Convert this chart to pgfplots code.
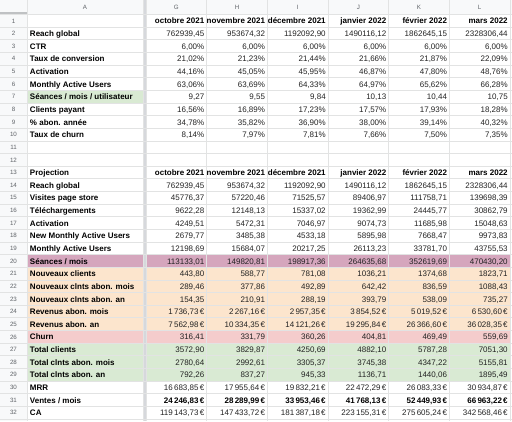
\documentclass[border=0pt]{standalone}
\usepackage{pgfplots}
\pgfplotsset{compat=1.18}
\usepackage{pgfplotstable}
\usepackage{fontspec}
\setmainfont{Liberation Sans}
\definecolor{hdr}{HTML}{F8F9FA}
\definecolor{gridc}{HTML}{E2E3E3}
\definecolor{divc}{HTML}{D6D8DC}
\definecolor{corn}{HTML}{BFC1C3}
\definecolor{grn}{HTML}{D9EAD3}
\definecolor{pnk}{HTML}{D5A6BD}
\definecolor{orn}{HTML}{FCE5CD}
\definecolor{rdc}{HTML}{F4CCCC}
\definecolor{valc}{HTML}{222222}
\definecolor{hdtxt}{HTML}{5F6368}
\newcommand\ts{\kern0.16em}

% labels of column A (bold)
\pgfplotstableread[col sep=semicolon,row sep=\\]{
r;t\\
2;Reach global\\
3;CTR\\
4;Taux de conversion\\
5;Activation\\
6;Monthly Active Users\\
7;Séances / mois / utilisateur\\
8;Clients payant\\
9;\% abon. année\\
10;Taux de churn\\
13;Projection\\
14;Reach global\\
15;Visites page store\\
16;Téléchargements\\
17;Activation\\
18;New Monthly Active Users\\
19;Monthly Active Users\\
20;Séances / mois\\
21;Nouveaux clients\\
22;Nouveaux clnts abon. mois\\
23;Nouveaux clnts abon. an\\
24;Revenus abon. mois\\
25;Revenus abon. an\\
26;Churn\\
27;Total clients\\
28;Total clnts abon. mois\\
29;Total clnts abon. an\\
30;MRR\\
31;Ventes / mois\\
32;CA\\
}\labels

% month headers (bold)
\pgfplotstableread[col sep=semicolon,row sep=\\]{
r;G;H;I;J;K;L\\
1;octobre 2021;novembre 2021;décembre 2021;janvier 2022;février 2022;mars 2022\\
13;octobre 2021;novembre 2021;décembre 2021;janvier 2022;février 2022;mars 2022\\
}\months

% values (regular)
\pgfplotstableread[col sep=semicolon,row sep=\\]{
r;G;H;I;J;K;L\\
2;762939,45;953674,32;1192092,90;1490116,12;1862645,15;2328306,44\\
3;6,00\%;6,00\%;6,00\%;6,00\%;6,00\%;6,00\%\\
4;21,02\%;21,23\%;21,44\%;21,66\%;21,87\%;22,09\%\\
5;44,16\%;45,05\%;45,95\%;46,87\%;47,80\%;48,76\%\\
6;63,06\%;63,69\%;64,33\%;64,97\%;65,62\%;66,28\%\\
7;9,27;9,55;9,84;10,13;10,44;10,75\\
8;16,56\%;16,89\%;17,23\%;17,57\%;17,93\%;18,28\%\\
9;34,78\%;35,82\%;36,90\%;38,00\%;39,14\%;40,32\%\\
10;8,14\%;7,97\%;7,81\%;7,66\%;7,50\%;7,35\%\\
14;762939,45;953674,32;1192092,90;1490116,12;1862645,15;2328306,44\\
15;45776,37;57220,46;71525,57;89406,97;111758,71;139698,39\\
16;9622,28;12148,13;15337,02;19362,99;24445,77;30862,79\\
17;4249,51;5472,31;7046,97;9074,73;11685,98;15048,63\\
18;2679,77;3485,38;4533,18;5895,98;7668,47;9973,83\\
19;12198,69;15684,07;20217,25;26113,23;33781,70;43755,53\\
20;113133,01;149820,81;198917,36;264635,68;352619,69;470430,20\\
21;443,80;588,77;781,08;1036,21;1374,68;1823,71\\
22;289,46;377,86;492,89;642,42;836,59;1088,43\\
23;154,35;210,91;288,19;393,79;538,09;735,27\\
24;1\ts736,73\ts€;2\ts267,16\ts€;2\ts957,35\ts€;3\ts854,52\ts€;5\ts019,52\ts€;6\ts530,60\ts€\\
25;7\ts562,98\ts€;10\ts334,35\ts€;14\ts121,26\ts€;19\ts295,84\ts€;26\ts366,60\ts€;36\ts028,35\ts€\\
26;316,41;331,79;360,26;404,81;469,49;559,69\\
27;3572,90;3829,87;4250,69;4882,10;5787,28;7051,30\\
28;2780,64;2992,61;3305,37;3745,38;4347,22;5155,81\\
29;792,26;837,27;945,33;1136,71;1440,06;1895,49\\
30;16\ts683,85\ts€;17\ts955,64\ts€;19\ts832,21\ts€;22\ts472,29\ts€;26\ts083,33\ts€;30\ts934,87\ts€\\
32;119\ts143,73\ts€;147\ts433,72\ts€;181\ts387,18\ts€;223\ts155,31\ts€;275\ts605,24\ts€;342\ts568,46\ts€\\
}\vals

% values (bold)
\pgfplotstableread[col sep=semicolon,row sep=\\]{
r;G;H;I;J;K;L\\
31;24\ts246,83\ts€;28\ts289,99\ts€;33\ts953,46\ts€;41\ts768,13\ts€;52\ts449,93\ts€;66\ts963,22\ts€\\
}\boldvals

% column letters
\pgfplotstableread[col sep=semicolon,row sep=\\]{
x;t\\
85;A\\
176.35;G\\
237;H\\
297.65;I\\
358.35;J\\
419;K\\
479.65;L\\
}\letters

% row numbers
\pgfplotstableread[col sep=semicolon,row sep=\\]{
r;n\\
1;1\\ 2;2\\ 3;3\\ 4;4\\ 5;5\\ 6;6\\ 7;7\\ 8;8\\ 9;9\\ 10;10\\ 11;11\\ 12;12\\ 13;13\\ 14;14\\ 15;15\\ 16;16\\
17;17\\ 18;18\\ 19;19\\ 20;20\\ 21;21\\ 22;22\\ 23;23\\ 24;24\\ 25;25\\ 26;26\\ 27;27\\ 28;28\\ 29;29\\ 30;30\\ 31;31\\ 32;32\\
}\rownums

\pgfplotsset{
  txtbase/.style={draw=none, mark=none, point meta=explicit symbolic,
    nodes near coords={\pgfplotspointmeta},
    every node near coord/.append style={inner sep=0pt, outer sep=0pt}},
  valR/.style={txtbase, every node near coord/.append style={anchor=base east, text=valc, font=\fontsize{8}{9.6}\selectfont}},
  valRb/.style={txtbase, every node near coord/.append style={anchor=base east, text=black, font=\fontsize{8}{9.6}\selectfont\bfseries}},
  labL/.style={txtbase, every node near coord/.append style={anchor=base west, text=black, font=\fontsize{8}{9.6}\selectfont\bfseries}},
  hdC/.style={txtbase, every node near coord/.append style={anchor=base, text=hdtxt, font=\fontsize{6.2}{7}\selectfont}},
}

\begin{document}
\begin{tikzpicture}
\begin{axis}[
  name=tbl, at={(0,0)}, anchor=north west,
  scale only axis, width=512pt, height=421pt,
  xmin=0, xmax=512, ymin=0, ymax=421, y dir=reverse,
  clip=false, axis on top,
  axis line style={draw=none}, major tick length=0pt,
  xticklabels={}, yticklabels={},
  xtick={27,143,146,206.7,267.3,328,388.7,449.3,510},
  ytick={14.5,27.14,39.78,52.42,65.06,77.70,90.34,102.98,115.62,128.26,140.90,153.54,166.18,178.82,191.46,204.10,216.74,229.38,242.02,254.66,267.30,279.94,292.58,305.22,317.86,330.50,343.14,355.78,368.42,381.06,393.70,406.34,418.98},
  grid=major, major grid style={line width=0.8pt, color=gridc},
]
% backgrounds
\addplot[fill=hdr, draw=none] coordinates {(0,0) (512,0) (512,14.5) (0,14.5)};
\addplot[fill=hdr, draw=none] coordinates {(0,0) (27,0) (27,421) (0,421)};
\addplot[fill=corn, draw=none] coordinates {(0,12) (27,12) (27,14.8) (0,14.8)};
\addplot[fill=grn, draw=none] coordinates {(27,90.34) (143,90.34) (143,102.98) (27,102.98)};
\addplot[fill=pnk, draw=none] coordinates {(27,254.66) (510,254.66) (510,267.30) (27,267.30)};
\addplot[fill=orn, draw=none] coordinates {(27,267.30) (510,267.30) (510,330.50) (27,330.50)};
\addplot[fill=rdc, draw=none] coordinates {(27,330.50) (510,330.50) (510,343.14) (27,343.14)};
\addplot[fill=grn, draw=none] coordinates {(27,343.14) (510,343.14) (510,381.06) (27,381.06)};
\addplot[fill=divc, draw=none] coordinates {(143,0) (146,0) (146,421) (143,421)};
% column letters and row numbers
\addplot[hdC] table[x=x, y expr=9.7, meta=t] {\letters};
\addplot[hdC] table[x=r, y expr=14.5+(\thisrow{r}-0.5)*12.64+2.2, x expr=13.5, meta=n] {\rownums};
% labels
\addplot[labL] table[x expr=30, y expr=14.5+(\thisrow{r}-0.5)*12.64+3.1, meta=t] {\labels};
% month headers
\addplot[valRb] table[x expr=204.3, y expr=14.5+(\thisrow{r}-0.5)*12.64+3.1, meta=G] {\months};
\addplot[valRb] table[x expr=265.0, y expr=14.5+(\thisrow{r}-0.5)*12.64+3.1, meta=H] {\months};
\addplot[valRb] table[x expr=325.7, y expr=14.5+(\thisrow{r}-0.5)*12.64+3.1, meta=I] {\months};
\addplot[valRb] table[x expr=386.3, y expr=14.5+(\thisrow{r}-0.5)*12.64+3.1, meta=J] {\months};
\addplot[valRb] table[x expr=447.0, y expr=14.5+(\thisrow{r}-0.5)*12.64+3.1, meta=K] {\months};
\addplot[valRb] table[x expr=507.7, y expr=14.5+(\thisrow{r}-0.5)*12.64+3.1, meta=L] {\months};
% regular values
\addplot[valR] table[x expr=204.3, y expr=14.5+(\thisrow{r}-0.5)*12.64+3.1, meta=G] {\vals};
\addplot[valR] table[x expr=265.0, y expr=14.5+(\thisrow{r}-0.5)*12.64+3.1, meta=H] {\vals};
\addplot[valR] table[x expr=325.7, y expr=14.5+(\thisrow{r}-0.5)*12.64+3.1, meta=I] {\vals};
\addplot[valR] table[x expr=386.3, y expr=14.5+(\thisrow{r}-0.5)*12.64+3.1, meta=J] {\vals};
\addplot[valR] table[x expr=447.0, y expr=14.5+(\thisrow{r}-0.5)*12.64+3.1, meta=K] {\vals};
\addplot[valR] table[x expr=507.7, y expr=14.5+(\thisrow{r}-0.5)*12.64+3.1, meta=L] {\vals};
% bold values
\addplot[valRb] table[x expr=204.3, y expr=14.5+(\thisrow{r}-0.5)*12.64+3.1, meta=G] {\boldvals};
\addplot[valRb] table[x expr=265.0, y expr=14.5+(\thisrow{r}-0.5)*12.64+3.1, meta=H] {\boldvals};
\addplot[valRb] table[x expr=325.7, y expr=14.5+(\thisrow{r}-0.5)*12.64+3.1, meta=I] {\boldvals};
\addplot[valRb] table[x expr=386.3, y expr=14.5+(\thisrow{r}-0.5)*12.64+3.1, meta=J] {\boldvals};
\addplot[valRb] table[x expr=447.0, y expr=14.5+(\thisrow{r}-0.5)*12.64+3.1, meta=K] {\boldvals};
\addplot[valRb] table[x expr=507.7, y expr=14.5+(\thisrow{r}-0.5)*12.64+3.1, meta=L] {\boldvals};
\end{axis}
\pgfresetboundingbox
\path (tbl.south west) rectangle (tbl.north east);
\end{tikzpicture}
\end{document}
